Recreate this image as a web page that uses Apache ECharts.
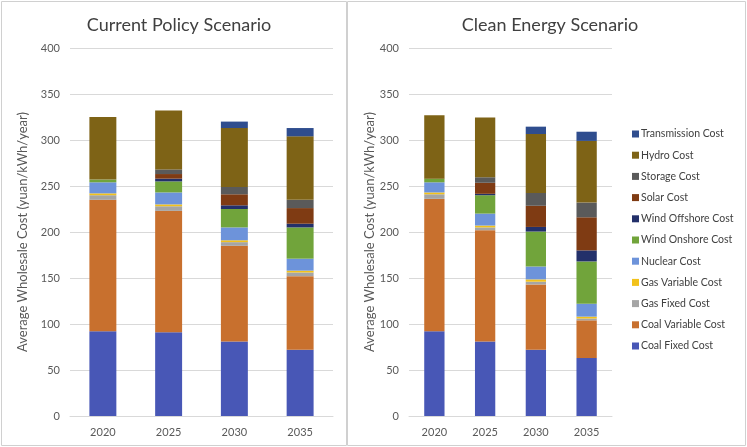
<!DOCTYPE html>
<html>
<head>
<meta charset="utf-8">
<script src="https://cdn.jsdelivr.net/npm/echarts@6/dist/echarts.min.js"></script>
<style>
  html, body { margin: 0; padding: 0; background: #fff; }
  #chart { width: 747px; height: 447px; }
</style>
</head>
<body>
<div id="chart"></div>
<script>
// years on the x axis
const years = ['2020', '2025', '2030', '2035'];

// Current Policy Scenario (left panel)
const cpCoalFixed    = [92, 91, 81, 72];
const cpCoalVariable = [143, 132, 104, 80];
const cpGasFixed     = [5, 5, 4, 4];
const cpGasVariable  = [2, 2, 2, 2];
const cpNuclear      = [12, 13, 14, 13];
const cpWindOnshore  = [3, 12, 20, 34];
const cpWindOffshore = [0, 3, 4, 4];
const cpSolar        = [0, 5, 12, 17];
const cpStorage      = [0, 5, 8, 9];
const cpHydro        = [68, 64, 64, 69];
const cpTransmission = [0, 0, 7, 9];

// Clean Energy Scenario (right panel)
const ceCoalFixed    = [92, 81, 72, 63];
const ceCoalVariable = [144, 121, 71, 41];
const ceGasFixed     = [5, 3, 3, 2];
const ceGasVariable  = [2, 2, 2.5, 2];
const ceNuclear      = [11, 13, 14, 14];
const ceWindOnshore  = [4, 20, 38, 46];
const ceWindOffshore = [0, 1.5, 5, 12];
const ceSolar        = [0, 12, 23, 36];
const ceStorage      = [0, 6, 14, 16];
const ceHydro        = [69, 65, 64, 67];
const ceTransmission = [0, 0, 8, 10];

const names = ['Coal Fixed Cost', 'Coal Variable Cost', 'Gas Fixed Cost', 'Gas Variable Cost',
  'Nuclear Cost', 'Wind Onshore Cost', 'Wind Offshore Cost', 'Solar Cost', 'Storage Cost',
  'Hydro Cost', 'Transmission Cost'];
const colors = ['#4857b6', '#c8702e', '#a5a5a5', '#f2c21b', '#6d93da', '#71a43b',
  '#23306a', '#7f3b13', '#5a5a5a', '#7e6316', '#2f4d8e'];
const cpData = [cpCoalFixed, cpCoalVariable, cpGasFixed, cpGasVariable, cpNuclear,
  cpWindOnshore, cpWindOffshore, cpSolar, cpStorage, cpHydro, cpTransmission];
const ceData = [ceCoalFixed, ceCoalVariable, ceGasFixed, ceGasVariable, ceNuclear,
  ceWindOnshore, ceWindOffshore, ceSolar, ceStorage, ceHydro, ceTransmission];

const font = 'Lato, "Open Sans", sans-serif';
const axisName = 'Average Wholesale Cost (yuan/kWh/year)';

function xAx(idx) {
  return {
    type: 'category', gridIndex: idx, data: years,
    axisLine: { lineStyle: { color: '#d9d9d9' } },
    axisTick: { show: false },
    axisLabel: { color: '#595959', fontSize: 11, fontFamily: font, margin: 11 }
  };
}
function yAx(idx, gap) {
  return {
    type: 'value', gridIndex: idx, min: 0, max: 400, interval: 50,
    name: axisName, nameLocation: 'middle', nameGap: gap,
    nameTextStyle: { color: '#595959', fontSize: 13, fontFamily: font },
    axisLine: { show: false }, axisTick: { show: false },
    axisLabel: { color: '#595959', fontSize: 11, fontFamily: font, margin: 10 },
    splitLine: { lineStyle: { color: '#d9d9d9' } }
  };
}

const series = [];
names.forEach((n, i) => {
  series.push({ name: n, type: 'bar', stack: 'cp', xAxisIndex: 0, yAxisIndex: 0,
    data: cpData[i], barWidth: '41%', itemStyle: { color: colors[i] } });
  series.push({ name: n, type: 'bar', stack: 'ce', xAxisIndex: 1, yAxisIndex: 1,
    data: ceData[i], barWidth: '40%', itemStyle: { color: colors[i] } });
});

const chart = echarts.init(document.getElementById('chart'));
chart.setOption({
  animation: false,
  textStyle: { fontFamily: font },
  title: [
    { text: 'Current Policy Scenario', left: 174, top: 11, textAlign: 'center',
      textStyle: { fontSize: 18, fontWeight: 'normal', color: '#404040', fontFamily: font } },
    { text: 'Clean Energy Scenario', left: 545, top: 11, textAlign: 'center',
      textStyle: { fontSize: 18, fontWeight: 'normal', color: '#404040', fontFamily: font } }
  ],
  graphic: [
    { type: 'rect', shape: { x: 1.5, y: 1.5, width: 345, height: 444 },
      style: { fill: 'none', stroke: '#d0d0d0', lineWidth: 1 } },
    { type: 'rect', shape: { x: 347.5, y: 1.5, width: 398, height: 444 },
      style: { fill: 'none', stroke: '#d0d0d0', lineWidth: 1 } }
  ],
  legend: {
    orient: 'vertical', left: 627, top: 122,
    data: names.slice().reverse(),
    itemWidth: 7, itemHeight: 7, itemGap: 7.2, icon: 'rect',
    textStyle: { color: '#404040', fontSize: 10.5, fontFamily: font, lineHeight: 14, padding: [0, 0, 0, -3] }
  },
  grid: [
    { left: 70, top: 48, width: 263, height: 368 },
    { left: 409, top: 48, width: 203, height: 368 }
  ],
  xAxis: [xAx(0), xAx(1)],
  yAxis: [yAx(0, 41), yAx(1, 33)],
  series: series
});
</script>
</body>
</html>
